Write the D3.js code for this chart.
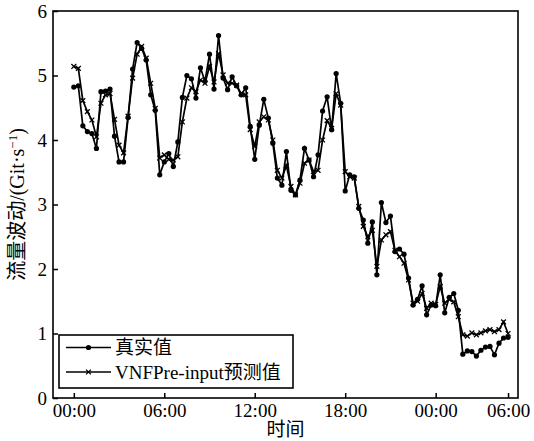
<!DOCTYPE html>
<html>
<head>
<meta charset="utf-8">
<script src="https://cdn.jsdelivr.net/npm/d3@7"></script>
<style>
  html, body { margin: 0; padding: 0; background: #fff; }
  svg { display: block; }
  text { font-family: "Liberation Serif", "Noto Sans CJK SC", serif; fill: #000; }
</style>
</head>
<body>
<svg id="chart" width="534" height="441"></svg>
<script>
// Measured traffic (real) and VNFPre-input prediction, one sample per step
const realValues = [
  4.82, 4.84, 4.22, 4.13, 4.10, 3.87, 4.75, 4.76, 4.79, 4.06, 3.66, 3.66, 4.35, 5.10, 5.51, 5.42, 5.24, 4.70, 4.46, 3.46,
  3.66, 3.79, 3.59, 3.97, 4.66, 5.00, 4.95, 4.65, 5.12, 4.91, 5.33, 4.79, 5.62, 4.96, 4.78, 4.98, 4.84, 4.70, 4.81, 4.21,
  3.70, 4.23, 4.63, 4.34, 3.95, 3.41, 3.30, 3.82, 3.22, 3.15, 3.38, 3.87, 3.69, 3.43, 3.77, 4.45, 4.67, 4.16, 5.03,
  4.57, 3.21, 3.46, 3.43, 2.94, 2.76, 2.40, 2.73, 1.91, 3.03, 2.72, 2.82, 2.27, 2.31, 2.23, 1.86, 1.44, 1.53, 1.74, 1.29,
  1.44, 1.43, 1.91, 1.32, 1.56, 1.62, 1.36, 0.68, 0.73, 0.72, 0.65, 0.74, 0.79, 0.80, 0.67, 0.85, 0.93, 0.94
];
const predValues = [
  5.14, 5.11, 4.61, 4.44, 4.31, 4.05, 4.57, 4.70, 4.72, 4.32, 3.92, 3.80, 4.37, 4.96, 5.33, 5.45, 5.27, 4.88, 4.49, 3.72,
  3.77, 3.70, 3.69, 3.74, 4.28, 4.65, 4.81, 4.75, 4.93, 4.88, 5.14, 4.90, 5.34, 5.01, 4.88, 4.88, 4.85, 4.72, 4.70, 4.16,
  3.90, 4.28, 4.36, 4.31, 4.00, 3.53, 3.41, 3.60, 3.28, 3.15, 3.33, 3.64, 3.69, 3.51, 3.53, 4.00, 4.30, 4.18, 4.72,
  4.54, 3.51, 3.43, 3.41, 2.97, 2.66, 2.50, 2.60, 2.04, 2.45, 2.53, 2.58, 2.29, 2.19, 2.09, 1.83, 1.47, 1.50, 1.62, 1.39,
  1.47, 1.45, 1.73, 1.47, 1.53, 1.49, 1.26, 0.98, 0.96, 1.01, 0.98, 1.01, 1.04, 1.06, 1.03, 1.06, 1.18, 1.00
];
const seriesNames = ["真实值", "VNFPre-input预测值"];
const timeTickIndex = [0, 20, 40, 60, 80, 96];
const timeTickLabels = ["00:00", "06:00", "12:00", "18:00", "00:00", "06:00"];
const yTicks = [0, 1, 2, 3, 4, 5, 6];

const svg = d3.select("#chart");
const plot = { left: 53, top: 11, right: 518, bottom: 398 };

const x = d3.scaleLinear().domain([-4.6, 98.2]).range([plot.left, plot.right]);
const y = d3.scaleLinear().domain([0, 6]).range([plot.bottom, plot.top]);

const FS = 19;

// axes with inward ticks
const gx = svg.append("g")
  .attr("transform", `translate(0,${plot.bottom})`)
  .call(d3.axisBottom(x).tickValues(timeTickIndex)
    .tickFormat((d, i) => timeTickLabels[i]).tickSize(-5).tickPadding(6));
const gy = svg.append("g")
  .attr("transform", `translate(${plot.left},0)`)
  .call(d3.axisLeft(y).tickValues(yTicks).tickFormat(d3.format("d")).tickSize(-5).tickPadding(6));
[gx, gy].forEach(g => {
  g.select(".domain").remove();
  g.selectAll(".tick line").attr("stroke", "#000").attr("stroke-width", 1.5);
  g.selectAll(".tick text").attr("font-size", FS)
    .style("font-family", '"Liberation Serif", serif');
});

// frame
svg.append("rect")
  .attr("x", plot.left).attr("y", plot.top)
  .attr("width", plot.right - plot.left).attr("height", plot.bottom - plot.top)
  .attr("fill", "none").attr("stroke", "#000").attr("stroke-width", 1.6);

const line = d3.line().x((d, i) => x(i)).y(d => y(d));

function drawCircles(g, data) {
  g.selectAll("circle").data(data).join("circle")
    .attr("cx", (d, i) => x(i)).attr("cy", d => y(d)).attr("r", 2.6).attr("fill", "#000");
}
function crossPath(cx, cy, s) {
  return `M${cx - s},${cy - s}L${cx + s},${cy + s}M${cx - s},${cy + s}L${cx + s},${cy - s}`;
}
function drawCrosses(g, data) {
  g.selectAll("path").data(data).join("path")
    .attr("d", (d, i) => crossPath(x(i), y(d), 2.4))
    .attr("stroke", "#000").attr("stroke-width", 1.3).attr("fill", "none");
}

// prediction series
svg.append("path").datum(predValues)
  .attr("d", line).attr("fill", "none").attr("stroke", "#000").attr("stroke-width", 1.7);
drawCrosses(svg.append("g"), predValues);

// real series
svg.append("path").datum(realValues)
  .attr("d", line).attr("fill", "none").attr("stroke", "#000").attr("stroke-width", 1.7);
drawCircles(svg.append("g"), realValues);

// axis titles
svg.append("text")
  .attr("x", (plot.left + plot.right) / 2).attr("y", 436)
  .attr("text-anchor", "middle").attr("font-size", FS).text("时间");

const yt = svg.append("text")
  .attr("transform", `translate(24,${(plot.top + plot.bottom) / 2}) rotate(-90)`)
  .attr("text-anchor", "middle").attr("font-size", 20);
yt.append("tspan").text("流量波动/(Git·s");
yt.append("tspan").attr("font-size", 13).attr("dy", -7).text("−1");
yt.append("tspan").attr("dy", 7).text(")");

// legend
const lg = svg.append("g");
lg.append("rect").attr("x", 59).attr("y", 335).attr("width", 234).attr("height", 53)
  .attr("fill", "#fff").attr("stroke", "#000").attr("stroke-width", 1.6);
const rows = [347.5, 372];
seriesNames.forEach((name, i) => {
  const ry = rows[i];
  lg.append("line").attr("x1", 66).attr("x2", 111).attr("y1", ry).attr("y2", ry)
    .attr("stroke", "#000").attr("stroke-width", 1.6);
  if (i === 0) {
    lg.append("circle").attr("cx", 88.5).attr("cy", ry).attr("r", 2.6).attr("fill", "#000");
  } else {
    lg.append("path").attr("d", crossPath(88.5, ry, 2.4))
      .attr("stroke", "#000").attr("stroke-width", 1.3);
  }
  lg.append("text").attr("x", 115).attr("y", ry).attr("dy", "0.35em")
    .attr("font-size", FS).text(name);
});
</script>
</body>
</html>
